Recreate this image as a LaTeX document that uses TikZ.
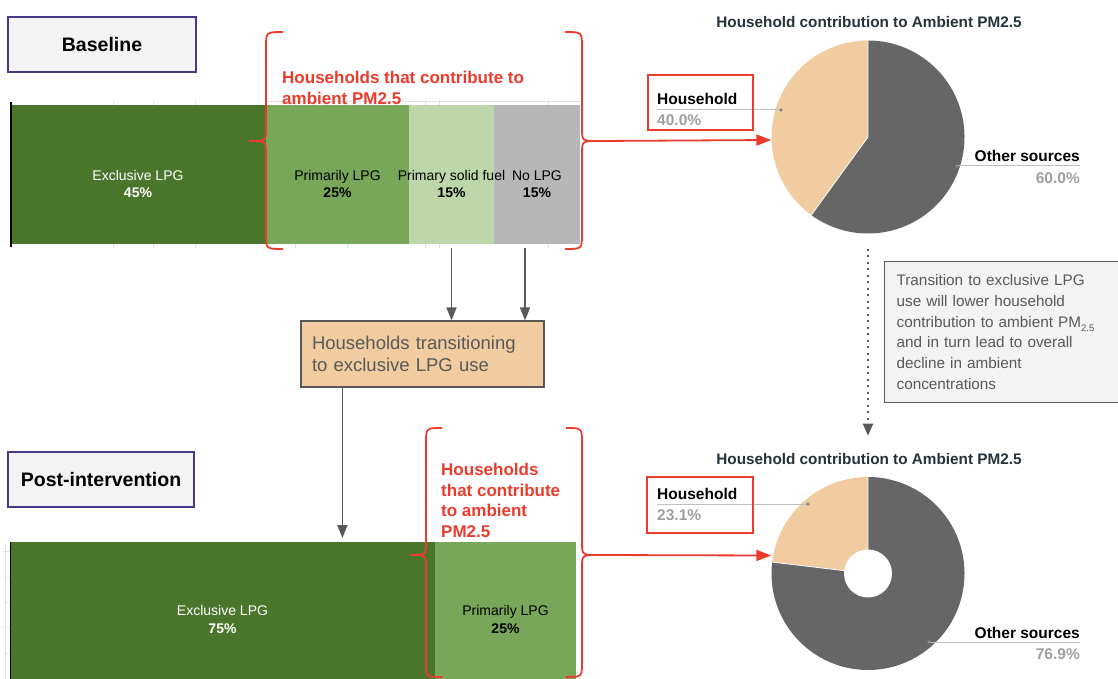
\documentclass[tikz,border=0pt]{standalone}
\usepackage{fontspec}
\setmainfont{Liberation Sans}
\usetikzlibrary{arrows.meta,positioning}

\definecolor{exgreen}{RGB}{74,118,44}
\definecolor{prgreen}{RGB}{120,167,90}
\definecolor{sfgreen}{RGB}{189,215,170}
\definecolor{nogray}{RGB}{183,183,183}
\definecolor{hhtan}{RGB}{241,204,160}
\definecolor{piegray}{RGB}{102,102,102}
\definecolor{hred}{RGB}{234,60,45}
\definecolor{boxpurple}{RGB}{72,56,140}
\definecolor{txtgray}{RGB}{89,89,89}
\definecolor{pctgray}{RGB}{158,158,158}
\definecolor{titlecol}{RGB}{38,50,56}
\definecolor{gridgray}{RGB}{226,226,226}
\definecolor{boxfill}{RGB}{243,243,243}

\tikzset{
  seg/.style={inner sep=0pt, outer sep=0pt, minimum height=139pt, anchor=west},
  barlbl/.style={font=\fontsize{14}{17.5}\selectfont, align=center, inner sep=0pt},
  stagebox/.style={draw=boxpurple, line width=1.5pt, fill=boxfill, font=\bfseries\fontsize{19.5}{22}\selectfont, inner sep=0pt, minimum height=55pt},
  hhtext/.style={text=hred, font=\bfseries\fontsize{17}{20.5}\selectfont, align=left, inner sep=0pt, anchor=north west},
  redbrace/.style={draw=hred, line width=1.8pt},
  redarrow/.style={draw=hred, line width=1.8pt, -{Triangle[length=15pt,width=11pt]}},
  grayarrow/.style={draw=txtgray, line width=1.6pt, -{Triangle[length=13pt,width=10pt]}},
  dotarrow/.style={draw=txtgray, line width=1.8pt, dash pattern=on 1.8pt off 4.7pt, -{Triangle[length=12pt,width=10pt]}},
  pietitle/.style={text=titlecol, font=\bfseries\fontsize{15.3}{18}\selectfont, inner sep=0pt, anchor=base},
  pielbl/.style={font=\bfseries\fontsize{15.5}{18}\selectfont, inner sep=0pt},
  pctlbl/.style={pielbl, text=pctgray},
  leader/.style={draw=black!25, line width=1pt},
  redframe/.style={draw=hred, line width=1.8pt},
}

\begin{document}
\begin{tikzpicture}[x=1pt, y=-1pt]
\useasboundingbox (0,0) rectangle (1118,679);

% stage labels
\node[stagebox, minimum width=188pt] (baseline) at (102,44.5) {Baseline};
\node[stagebox, minimum width=186pt] (postint) at (101,479.5) {Post-intervention};

% faint chart grid behind the bars
\foreach \gx in {113,153,195,295,347,425,439,548}
  \draw[gridgray] (\gx,100) -- (\gx,248);
\draw[gridgray] (266,101) -- (582,101);
\draw[gridgray] (5,545) -- (5,679);
\foreach \gy in {551,577,602,627,653}
  \draw[gridgray] (3,\gy) -- (10,\gy);

% baseline bar
\node[seg, fill=exgreen, minimum width=256pt] (exA) at (10,174.5) {};
\node[seg, fill=prgreen, minimum width=143pt, right=0pt of exA] (prA) {};
\node[seg, fill=sfgreen, minimum width=85pt, right=0pt of prA] (sfA) {};
\node[seg, fill=nogray, minimum width=86pt, right=0pt of sfA] (noA) {};
\draw[black, line width=1.2pt] (11,102) -- (11,247);
\node[barlbl, text=white] (exAl) at ([yshift=-9.5pt]exA.center) {Exclusive LPG\\\textbf{45\%}};
\node[barlbl] (prAl) at ([yshift=-9.5pt]prA.center) {Primarily LPG\\\textbf{25\%}};
\node[barlbl] (sfAl) at ([yshift=-9.5pt]sfA.center) {Primary solid fuel\\\textbf{15\%}};
\node[barlbl] (noAl) at ([yshift=-9.5pt]noA.center) {No LPG\\\textbf{15\%}};

% post-intervention bar
\node[seg, fill=exgreen, minimum width=425pt] (exB) at (10,611.5) {};
\node[seg, fill=prgreen, minimum width=141pt, right=0pt of exB] (prB) {};
\draw[black, line width=1.2pt] (10.5,542) -- (10.5,679);
\node[barlbl, text=white] (exBl) at ([yshift=-8pt]exB.center) {Exclusive LPG\\\textbf{75\%}};
\node[barlbl] (prBl) at ([yshift=-8pt]prB.center) {Primarily LPG\\\textbf{25\%}};

% braces and red notes
\node[hhtext] (hhA) at (282,71) {Households that contribute to\\ambient PM2.5};
\node[hhtext] (hhB) at (441,463) {Households\\that contribute\\to ambient\\PM2.5};
\draw[redbrace] (283,32) .. controls (266,32) .. (266,47) -- (266,128) .. controls (266,141) .. (249,141)
  .. controls (266,141) .. (266,154) -- (266,234) .. controls (266,249) .. (283,249);
\draw[redbrace] (565,32) .. controls (582,32) .. (582,47) -- (582,128) .. controls (582,141) .. (598,141)
  .. controls (582,141) .. (582,154) -- (582,234) .. controls (582,249) .. (565,249);
\draw[redbrace] (442,428) .. controls (426,428) .. (426,443) -- (426,542) .. controls (426,555) .. (410,555)
  .. controls (426,555) .. (426,568) -- (426,662) .. controls (426,677) .. (442,677);
\draw[redbrace] (566,428) .. controls (582,428) .. (582,443) -- (582,542) .. controls (582,555) .. (598,555)
  .. controls (582,555) .. (582,568) -- (582,662) .. controls (582,677) .. (566,677);
\coordinate (tipA) at (598,141);
\coordinate (tipB) at (598,555);

% transition box
\node[draw=txtgray, line width=1.2pt, fill=hhtan, minimum width=243pt, minimum height=66pt,
  text width=221pt, align=left, inner sep=0pt, text=txtgray, font=\fontsize{18.5}{22}\selectfont]
  (trans) at (422.5,354) {Households transitioning\\to exclusive LPG use};
\draw[grayarrow, shorten <=4pt] (sfA.south) -- (sfA.south |- trans.north);
\draw[grayarrow, shorten <=4pt] ([xshift=-12pt]noA.south) -- ([xshift=-12pt]noA.south |- trans.north);
\coordinate (transout) at ([xshift=42pt]trans.south west);
\draw[grayarrow, shorten >=4pt] (transout) -- (transout |- exB.north);

% baseline pie
\node[pietitle] (titleA) at (869,28) {Household contribution to Ambient PM2.5};
\node[circle, minimum size=193pt, inner sep=0pt] (pieA) at (868,137) {};
\fill[hhtan] (pieA.center) -- ++(-90:96.5) arc[start angle=-90, end angle=-234, radius=96.5] -- cycle;
\fill[piegray] (pieA.center) -- ++(-234:96.5) arc[start angle=-234, end angle=-450, radius=96.5] -- cycle;
\draw[white, line width=0.8pt] (pieA.north) -- (pieA.center) -- ++(-234:96.5);
\node[pielbl, anchor=base west] (hhlblA) at (657,105) {Household};
\node[pctlbl, anchor=base west] (hhpctA) at (657,126) {40.0\%};
\draw[leader] (657,110) -- (781,110);
\fill[black!45] (781,110) circle[radius=1.8];
\draw[redframe] (648,75) rectangle (753,130);
\node[pielbl, anchor=base east] (othlblA) at (1080,162) {Other sources};
\node[pctlbl, anchor=base east] (othpctA) at (1080,183) {60.0\%};
\draw[leader] (957,166) -- (1080,166);
\fill[black!45] (957,166) circle[radius=1.8];
\draw[redarrow] (tipA) -- ([yshift=-3pt]pieA.west);

% post-intervention pie
\node[pietitle] (titleB) at (869,464) {Household contribution to Ambient PM2.5};
\node[circle, minimum size=193pt, inner sep=0pt] (pieB) at (868,573.5) {};
\fill[hhtan] (pieB.center) -- ++(-90:96.5) arc[start angle=-90, end angle=-173.2, radius=96.5] -- cycle;
\fill[piegray] (pieB.center) -- ++(-173.2:96.5) arc[start angle=-173.2, end angle=-450, radius=96.5] -- cycle;
\draw[white, line width=0.8pt] (pieB.north) -- (pieB.center) -- ++(-173.2:96.5);
\fill[white] (pieB.center) circle[radius=24];
\node[pielbl, anchor=base west] (hhlblB) at (657,499) {Household};
\node[pctlbl, anchor=base west] (hhpctB) at (657,520) {23.1\%};
\draw[leader] (657,504) -- (808,504);
\fill[black!45] (808,504) circle[radius=1.8];
\draw[redframe] (647,477) rectangle (753,533);
\node[pielbl, anchor=base east] (othlblB) at (1080,638) {Other sources};
\node[pctlbl, anchor=base east] (othpctB) at (1080,659) {76.9\%};
\draw[leader] (929,642) -- (1080,642);
\fill[black!45] (929,642) circle[radius=1.8];
\draw[redarrow] (tipB) -- ([yshift=18pt]pieB.west);

% note between the pies
\draw[dotarrow, shorten <=15pt, shorten >=17pt] (pieA.south) -- (pieA.south |- titleB.north);
\node[draw=txtgray, line width=1.2pt, fill=boxfill, anchor=north west, minimum height=141pt,
  text width=226pt, inner xsep=12pt, inner ysep=0pt, align=left, text=txtgray,
  font=\fontsize{15.3}{20.8}\selectfont] (note) at (884,261)
  {Transition to exclusive LPG\\use will lower household\\contribution to ambient PM\raisebox{-4pt}{\fontsize{9.5}{10}\selectfont 2.5}\\and in turn lead to overall\\decline in ambient\\concentrations};
\end{tikzpicture}
\end{document}
